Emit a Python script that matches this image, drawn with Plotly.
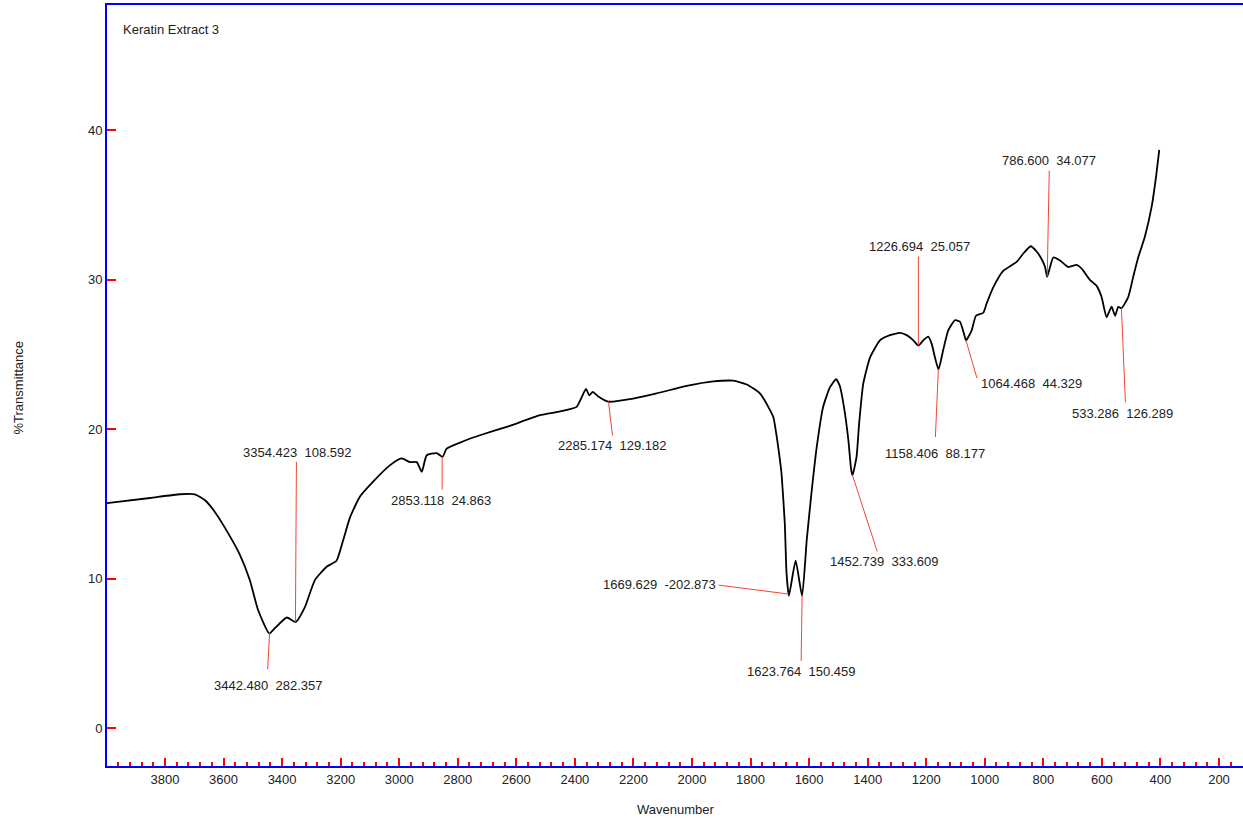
import numpy as np
import plotly.graph_objects as go

# ---- spectrum data (wavenumber, %T) ----
wavenumber = [4000, 3851, 3749, 3698, 3663, 3629, 3595, 3544, 3510, 3482, 3444, 3424, 3384, 3354,
              3322, 3288, 3248, 3214, 3191, 3168, 3134, 3089, 3031, 2992, 2963, 2940, 2923, 2906,
              2872, 2852, 2838, 2781, 2724, 2627, 2519, 2450, 2394, 2362, 2351, 2339, 2320, 2286,
              2201, 2121, 2018, 1927, 1859, 1813, 1768, 1734, 1722, 1709, 1700, 1694, 1683, 1677,
              1669, 1646, 1624, 1608, 1591, 1574, 1552, 1529, 1508, 1495, 1481, 1466, 1457, 1452,
              1438, 1429, 1415, 1392, 1358, 1324, 1290, 1267, 1244, 1227, 1210, 1193, 1181, 1170,
              1158, 1142, 1125, 1102, 1085, 1071, 1064, 1045, 1030, 1005, 994, 971, 937, 891, 869,
              843, 823, 806, 794, 787, 777, 766, 743, 715, 686, 669, 641, 618, 601, 584, 567, 555,
              544, 533, 510, 493, 476, 453, 430, 415, 404]
transmittance = [15.05, 15.4, 15.65, 15.65, 15.25, 14.45, 13.4, 11.6, 9.9, 7.9, 6.33, 6.7, 7.4, 7.1,
                 8.1, 9.9, 10.8, 11.2, 12.6, 14.1, 15.5, 16.5, 17.6, 18.05, 17.8, 17.8, 17.15, 18.26,
                 18.4, 18.15, 18.7, 19.2, 19.6, 20.2, 20.94, 21.2, 21.5, 22.7, 22.27, 22.5, 22.2, 21.85,
                 22.05, 22.4, 22.9, 23.2, 23.25, 23.0, 22.4, 21.3, 20.8, 19.3, 18.0, 17.0, 13.7, 10.35,
                 8.85, 11.2, 8.85, 12.6, 15.9, 18.8, 21.5, 22.8, 23.35, 22.9, 21.5, 19.3, 17.4, 16.9,
                 18.15, 20.4, 23.05, 24.8, 25.95, 26.3, 26.45, 26.3, 25.95, 25.6, 25.95, 26.2, 25.7, 24.8,
                 24.0, 25.3, 26.6, 27.3, 27.2, 26.4, 25.95, 26.6, 27.6, 27.8, 28.4, 29.5, 30.6, 31.2, 31.75,
                 32.25, 31.9, 31.4, 30.86, 30.2, 30.86, 31.5, 31.3, 30.86, 31.0, 30.75, 30.0, 29.6, 28.85,
                 27.5, 28.2, 27.6, 28.2, 28.1, 28.85, 30.2, 31.5, 32.9, 34.9, 36.9, 38.7]

# ---- peak labels ----
peak_wn = [3442.480, 3354.423, 2853.118, 2285.174, 1669.629, 1623.764, 1452.739,
           1226.694, 1158.406, 1064.468, 786.600, 533.286]
peak_val = [282.357, 108.592, 24.863, 129.182, -202.873, 150.459, 333.609,
            25.057, 88.177, 44.329, 34.077, 126.289]
# label placement (pixels from the peak point, screen-down positive)
text_dx = [-2, 2, -1, 4, -129, -1, 32, 1, -3, 66, 2, 1]
text_dy = [52, -169, 44, 44, -10, 76, 87, -99, 84, 44, -116, 105]
lead_dx = [-2, 1, 0, 4, -70, -1, 25, 0, -3, 11, 2, 4]
lead_dy = [36, -160, 33, 34, -9, 66, 77, -89, 68, 38, -106, 94]

x_major = list(range(200, 4000, 200))
y_ticks = [0, 10, 20, 30, 40]

FONT = "Liberation Sans, Arial, sans-serif"
FS = 13
TXT = "#222222"
BLUE = "#0000FF"
RED = "#FF0000"
LEAD = "rgb(240,70,50)"

fig = go.Figure()
fig.add_trace(go.Scatter(x=wavenumber, y=transmittance, mode="lines",
                         line=dict(color="black", width=1.8, shape="spline", smoothing=0.5),
                         showlegend=False, hoverinfo="skip"))

xs = np.array(wavenumber[::-1], dtype=float)
ys = np.array(transmittance[::-1], dtype=float)
shapes = []
annotations = []
for wn, val, tdx, tdy, ldx, ldy in zip(peak_wn, peak_val, text_dx, text_dy, lead_dx, lead_dy):
    yv = float(np.interp(wn, xs, ys))
    shapes.append(dict(type="line", xref="x", yref="y",
                       xsizemode="pixel", ysizemode="pixel",
                       xanchor=wn, yanchor=yv,
                       x0=0, y0=0, x1=ldx, y1=-ldy,
                       line=dict(color=LEAD, width=1)))
    annotations.append(dict(x=wn, y=yv, xref="x", yref="y", showarrow=False,
                            text=f"{wn:.3f}\u00a0\u00a0{val:.3f}",
                            xshift=tdx, yshift=-tdy, xanchor="center", yanchor="middle",
                            font=dict(family=FONT, size=FS, color=TXT)))

annotations.append(dict(xref="paper", yref="paper", x=0, y=1, xshift=14, yshift=-24,
                        xanchor="left", yanchor="middle", showarrow=False,
                        text="Keratin Extract 3", font=dict(family=FONT, size=FS, color=TXT)))
annotations.append(dict(xref="paper", yref="paper", x=0.5, y=0, yshift=-43,
                        xanchor="center", yanchor="middle", showarrow=False,
                        text="Wavenumber", font=dict(family=FONT, size=FS, color=TXT)))
annotations.append(dict(xref="paper", yref="paper", x=0, y=0.5, xshift=-89, yshift=-3,
                        xanchor="center", yanchor="middle", showarrow=False, textangle=-90,
                        text="%Transmittance", font=dict(family=FONT, size=FS, color=TXT)))

fig.update_layout(
    width=1243, height=819,
    margin=dict(l=107, r=0, t=5, b=53),
    paper_bgcolor="white", plot_bgcolor="white",
    shapes=shapes, annotations=annotations,
    xaxis=dict(range=[3998, 118], tickvals=x_major, ticktext=[str(v) for v in x_major],
               ticks="inside", ticklen=8, tickwidth=2, tickcolor=RED,
               minor=dict(dtick=40, tick0=0, ticks="inside", ticklen=4, tickwidth=2, tickcolor=RED),
               showline=True, linecolor=BLUE, linewidth=2, mirror=True,
               showgrid=False, zeroline=False,
               tickfont=dict(family=FONT, size=FS, color=TXT)),
    yaxis=dict(range=[-2.54, 48.4], tickvals=y_ticks, ticktext=[str(v) for v in y_ticks],
               ticks="inside", ticklen=9, tickwidth=2, tickcolor=RED,
               showline=True, linecolor=BLUE, linewidth=2,
               showgrid=False, zeroline=False,
               tickfont=dict(family=FONT, size=FS, color=TXT)),
)

fig.write_html("out.html")
